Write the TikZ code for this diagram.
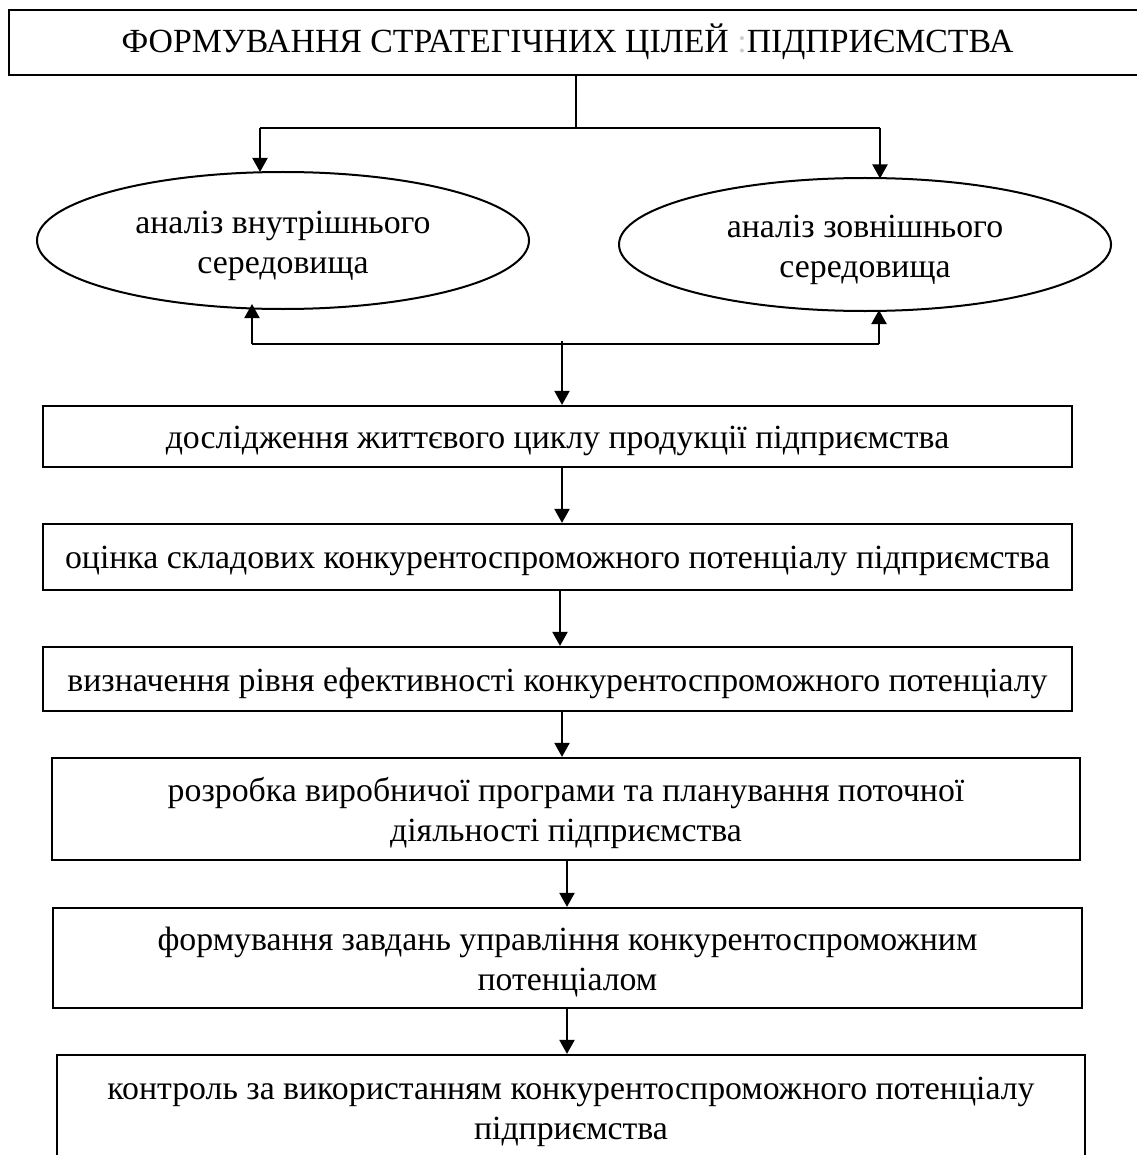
\documentclass[tikz,border=0pt]{standalone}
\usepackage{fontspec}
\setmainfont{Liberation Serif}
\usetikzlibrary{arrows.meta,shapes.geometric}
\begin{document}
\begin{tikzpicture}[x=0.5pt,y=-0.5pt,
  every node/.style={font=\fontsize{16.9}{20}\selectfont, align=center, inner sep=0pt},
  txt/.style={yshift=-2pt},
  stepbox/.style={draw, line width=1.1pt, rectangle, minimum width=#1},
  stepbox/.default=514.5pt,
  oval/.style={draw, line width=1pt, ellipse, minimum width=246pt},
  arr/.style={line width=1pt, -{Triangle[length=7pt,width=7.5pt]}},
  link/.style={line width=1pt}]
\useasboundingbox (0,0) rectangle (1136,1155);

% top goal block (right edge runs off the page)
\node[stepbox=567pt, minimum height=32.5pt] (title) at (576,42.5) {};
\node (titletext) at (567.5,42) {ФОРМУВАННЯ СТРАТЕГІЧНИХ ЦІЛЕЙ {\color{gray!40}:}ПІДПРИЄМСТВА};

% environment analysis
\node[oval, minimum height=68.5pt] (inner) at (283,240.5) {};
\node[oval, minimum height=66.5pt] (outer) at (865,244.5) {};
\node[txt, yshift=-0.5pt] (tinner) at (inner) {аналіз внутрішнього\\середовища};
\node[txt, yshift=-0.5pt] (touter) at (outer) {аналіз зовнішнього\\середовища};

% sequence of steps
\node[stepbox, minimum height=30.5pt] (b1) at (557.5,436.5) {};
\node[stepbox, minimum height=33pt] (b2) at (557.5,557) {};
\node[stepbox, minimum height=32pt] (b3) at (557.5,679) {};
\node[stepbox=514pt, minimum height=51pt] (b4) at (566,809) {};
\node[stepbox, minimum height=50pt] (b5) at (567.5,958) {};
\node[stepbox=514pt, minimum height=52.5pt] (b6) at (571,1107.5) {};

\node[txt] (t1) at (b1) {дослідження життєвого циклу продукції підприємства};
\node[txt] (t2) at (b2) {оцінка складових конкурентоспроможного потенціалу підприємства};
\node[txt] (t3) at (b3) {визначення рівня ефективності конкурентоспроможного потенціалу};
\node[txt] (t4) at (b4) {розробка виробничої програми та планування поточної\\діяльності підприємства};
\node[txt] (t5) at (b5) {формування завдань управління конкурентоспроможним\\потенціалом};
\node[txt] (t6) at (b6) {контроль за використанням конкурентоспроможного потенціалу\\підприємства};

% fork from the goal block to both analyses
\coordinate (jtop) at (title.south |- 0,128);
\coordinate (jL) at (260,128);
\coordinate (jR) at (880,128);
\draw[link] (title.south) -- (jtop);
\draw[link] (jL) -- (jR);
\draw[arr] (jL) -- (jL |- 0,172);
\draw[arr] (jR) -- (jR |- 0,178.5);

% feedback line under the analyses
\coordinate (kL) at (252,344);
\coordinate (kR) at (879,344);
\coordinate (kM) at (562,341);
\draw[link] (kL) -- (kR);
\draw[arr] (kL) -- (kL |- 0,304);
\draw[arr] (kR) -- (kR |- 0,310);
\draw[arr] (kM) -- (kM |- b1.north);

% arrows between steps
\draw[arr] (b1.south -| 562,0) -- (b2.north -| 562,0);
\draw[arr] (b2.south -| 560,0) -- (b3.north -| 560,0);
\draw[arr] (b3.south -| 562,0) -- (b4.north -| 562,0);
\draw[arr] (b4.south -| 567,0) -- (b5.north -| 567,0);
\draw[arr] (b5.south -| 567,0) -- (b6.north -| 567,0);
\end{tikzpicture}
\end{document}
